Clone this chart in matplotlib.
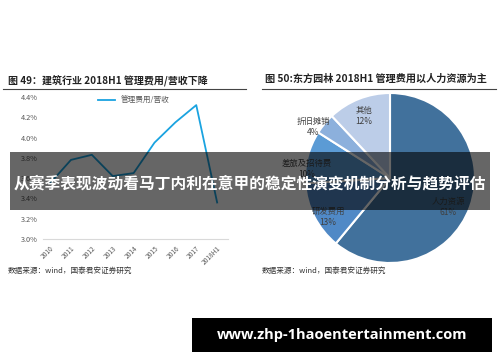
import matplotlib
matplotlib.use("Agg")
import matplotlib.pyplot as plt
from matplotlib.patches import Rectangle
from matplotlib.lines import Line2D

plt.rcParams['font.family'] = ['Noto Sans CJK SC', 'DejaVu Sans']

# 左图：管理费用/营收
years = ['2010', '2011', '2012', '2013', '2014', '2015', '2016', '2017', '2018H1']
ratio = [3.55, 3.78, 3.83, 3.62, 3.65, 3.95, 4.15, 4.32, 3.36]
yticks = [3.0, 3.2, 3.4, 3.6, 3.8, 4.0, 4.2, 4.4]

# 右图：东方园林管理费用构成
parts = ['人力资源', '研发费用', '差旅及招待费', '折旧摊销', '其他']
shares = [61, 13, 10, 4, 12]
colores = ['#41719c', '#5089c6', '#5b9bd5', '#8cb0dc', '#bccde8']

fig = plt.figure(figsize=(5, 3.62), dpi=100)
W, H = 500, 362

def fx(px):
    return px / W

def fy(py):
    return 1 - py / H

# ---- line chart
ax = fig.add_axes([fx(43), fy(239), fx(185), (239 - 97) / H])
xs = list(range(len(years)))
ax.plot(xs, ratio, color='#1aa3e0', lw=1.3, label='管理费用/营收')
ax.set_xlim(-0.34, 8.52)
ax.set_ylim(3.0, 4.4)
ax.set_yticks(yticks)
ax.set_yticklabels([f'{v:.1f}%' for v in yticks])
ax.set_xticks(xs)
ax.set_xticklabels(years, rotation=45, ha='right', rotation_mode='anchor')
for s in ['top', 'right', 'left']:
    ax.spines[s].set_visible(False)
ax.spines['bottom'].set_color('#d9d9d9')
ax.spines['bottom'].set_linewidth(0.8)
ax.tick_params(axis='y', length=0, labelsize=5.3, colors='#595959', pad=4)
ax.tick_params(axis='x', length=0, labelsize=4.8, colors='#595959', pad=4)
ax.legend(loc='upper left', bbox_to_anchor=(0.26, 1.05), frameon=False,
          fontsize=5.5, handlelength=2.2, labelcolor='#595959')

# ---- pie chart
ax2 = fig.add_axes([fx(305), fy(263), fx(170), 170 / H])
ax2.pie(shares, colors=colores, startangle=90, counterclock=False,
        wedgeprops=dict(edgecolor='white', linewidth=1.5))
ax2.set_xlim(-1, 1)
ax2.set_ylim(-1, 1)
ax2.set_aspect('equal')

# posiciones de las etiquetas en pixeles
cx, cy, R = 390, 178, 85
pos = [(448, 207), (328, 217), (307, 169), (313, 127), (364, 116)]
for name, val, (px, py) in zip(parts, shares, pos):
    ax2.text((px - cx) / R, (cy - py) / R, f'{name}\n{val}%', ha='center', va='center',
             fontsize=6, color='#404040', linespacing=1.4)

# titles
fig.text(fx(8), fy(80), '图 49：建筑行业 2018H1 管理费用/营收下降', fontsize=7.2,
         fontweight='bold', color='#222222', va='center')
fig.text(fx(265), fy(79), '图 50:东方园林 2018H1 管理费用以人力资源为主', fontsize=7.3,
         fontweight='bold', color='#222222', va='center')
fig.add_artist(Line2D([fx(3), fx(246)], [fy(89), fy(89)], color='#444444', lw=0.8))
fig.add_artist(Line2D([fx(262), fx(496)], [fy(89), fy(89)], color='#444444', lw=0.8))

# sources
fig.text(fx(8), fy(271), '数据来源：wind，国泰君安证券研究', fontsize=5.5, color='#333333', va='center')
fig.text(fx(262), fy(271), '数据来源：wind，国泰君安证券研究', fontsize=5.5, color='#333333', va='center')

# banner overlay
fig.patches.append(Rectangle((fx(10), fy(210)), fx(480), 58 / H, transform=fig.transFigure,
                             facecolor='black', alpha=0.6, edgecolor='none', zorder=5))
fig.text(0.5, fy(184), '从赛季表现波动看马丁内利在意甲的稳定性演变机制分析与趋势评估',
         fontsize=11.3, fontweight='bold', color='white', ha='center', va='center', zorder=6)

# watermark
fig.patches.append(Rectangle((fx(192), fy(352)), fx(300), 34 / H, transform=fig.transFigure,
                             facecolor='black', edgecolor='none', zorder=5))
fig.text(fx(342), fy(335), 'www.zhp-1haoentertainment.com', fontsize=10.5, fontweight='bold',
         family='Open Sans', color='white', ha='center', va='center', zorder=6)

fig.savefig('out.png', dpi=100)
